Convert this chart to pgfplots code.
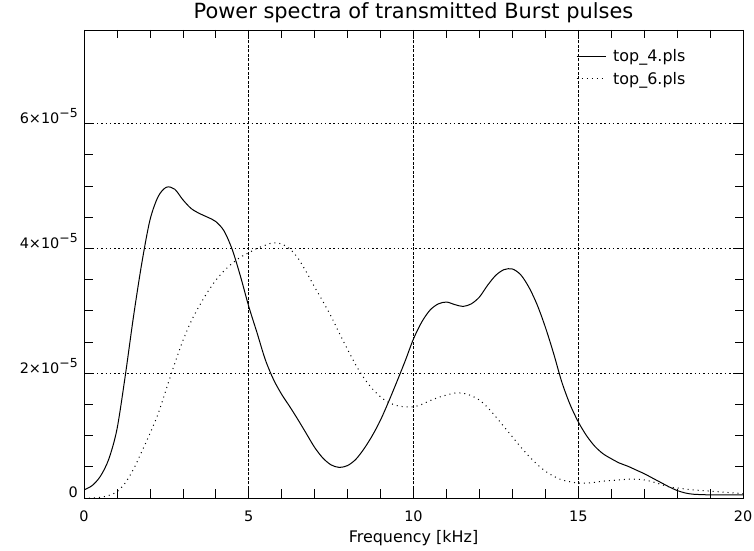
\documentclass[border=0pt]{standalone}
\usepackage{fontspec}
\setmainfont{DejaVu Sans}
\usepackage{pgfplots}
\pgfplotsset{compat=1.18}
\newcommand{\sups}[1]{\raisebox{0.42em}{\fontsize{12.5}{13}\selectfont #1}}
\begin{document}
\begin{tikzpicture}
\begin{axis}[
  scale only axis, width=659bp, height=468bp,
  xmin=0, xmax=20, ymin=0, ymax=7.5e-5,
  xtick={0,5,10,15,20}, xticklabels={0,5,10,15,20},
  minor x tick num=4,
  ytick={0,2e-5,4e-5,6e-5},
  yticklabels={0, 2×10\sups{−5}, 4×10\sups{−5}, 6×10\sups{−5}},
  minor y tick num=3,
  scaled y ticks=false, scaled x ticks=false,
  xticklabel style={font=\fontsize{14.5}{16}\selectfont, inner sep=0pt, anchor=base, yshift=-24bp},
  yticklabel style={font=\fontsize{14.5}{16}\selectfont, inner sep=0pt, anchor=base east, xshift=-6bp},
  tick align=inside,
  major tick length=8.5bp, minor tick length=8.5bp,
  every tick/.style={black, line width=0.7bp},
  axis line style={line width=0.8bp},
  grid=major,
  major x grid style={black, line width=0.7bp, dash pattern=on 3bp off 1.5bp},
  major y grid style={black, line width=0.8bp, dash pattern=on 1.5bp off 2.8bp},
  xlabel={Frequency [kHz]},
  xlabel style={font=\fontsize{16}{18}\selectfont, inner sep=0pt, at={(axis description cs:0.5,0)}, anchor=base, yshift=-45bp},
  title={Power spectra of transmitted Burst pulses},
  title style={font=\fontsize{21}{24}\selectfont, inner sep=0pt, at={(axis description cs:0.5,1)}, anchor=base, yshift=6bp},
  legend style={draw=none, fill=none, at={(0.7466,0.958)}, anchor=north west,
    font=\fontsize{16}{19}\selectfont, inner sep=0pt,
    nodes={inner sep=0pt}, column sep=7bp, row sep=8.5bp},
  legend cell align=left,
  legend image code/.code={\draw[#1] (0bp,0bp) -- (29bp,0bp);},
]
\addplot[black, line width=1bp, smooth, tension=0.5] coordinates {
(0,0.13e-5) (0.25,0.2e-5) (0.5,0.35e-5) (0.75,0.62e-5) (1.0,1.1e-5)
(1.25,1.95e-5) (1.5,2.9e-5) (1.75,3.75e-5) (2.0,4.45e-5) (2.25,4.83e-5)
(2.5,4.98e-5) (2.75,4.95e-5) (3.0,4.78e-5) (3.25,4.64e-5) (3.5,4.56e-5)
(3.75,4.5e-5) (4.0,4.43e-5) (4.25,4.28e-5) (4.5,3.98e-5) (4.75,3.55e-5)
(5.0,3.07e-5) (5.25,2.65e-5) (5.5,2.22e-5) (5.75,1.9e-5) (6.0,1.66e-5)
(6.25,1.46e-5) (6.5,1.25e-5) (6.75,1.03e-5) (7.0,0.81e-5) (7.25,0.64e-5)
(7.5,0.53e-5) (7.75,0.49e-5) (8.0,0.52e-5) (8.25,0.62e-5) (8.5,0.79e-5)
(8.75,1.0e-5) (9.0,1.25e-5) (9.25,1.55e-5) (9.5,1.87e-5) (9.75,2.2e-5)
(10.0,2.55e-5) (10.25,2.82e-5) (10.5,3.01e-5) (10.75,3.11e-5) (11.0,3.14e-5)
(11.25,3.1e-5) (11.5,3.07e-5) (11.75,3.11e-5) (12.0,3.22e-5) (12.25,3.41e-5)
(12.5,3.57e-5) (12.75,3.66e-5) (13.0,3.67e-5) (13.25,3.58e-5) (13.5,3.38e-5)
(13.75,3.1e-5) (14.0,2.74e-5) (14.25,2.32e-5) (14.5,1.86e-5) (14.75,1.5e-5)
(15.0,1.22e-5) (15.25,1.0e-5) (15.5,0.83e-5) (15.75,0.71e-5) (16.0,0.63e-5)
(16.25,0.56e-5) (16.5,0.51e-5) (16.75,0.45e-5) (17.0,0.39e-5) (17.25,0.32e-5)
(17.5,0.25e-5) (17.75,0.18e-5) (18.0,0.12e-5) (18.25,0.08e-5) (18.5,0.06e-5)
(19.0,0.05e-5) (19.5,0.05e-5) (20.0,0.05e-5)
};
\addlegendentry{top\_4.pls}
\addplot[black, line width=1bp, dash pattern=on 1bp off 4bp, smooth, tension=0.5] coordinates {
(0,0) (0.25,0) (0.5,0.01e-5) (0.75,0.04e-5) (1.0,0.1e-5)
(1.25,0.24e-5) (1.5,0.46e-5) (1.75,0.74e-5) (2.0,1.03e-5) (2.25,1.35e-5)
(2.5,1.75e-5) (2.75,2.15e-5) (3.0,2.52e-5) (3.25,2.83e-5) (3.5,3.08e-5)
(3.75,3.3e-5) (4.0,3.49e-5) (4.25,3.64e-5) (4.5,3.76e-5) (4.75,3.86e-5)
(5.0,3.93e-5) (5.25,4.0e-5) (5.5,4.05e-5) (5.75,4.09e-5) (6.0,4.07e-5)
(6.25,3.99e-5) (6.5,3.84e-5) (6.75,3.62e-5) (7.0,3.38e-5) (7.25,3.15e-5)
(7.5,2.91e-5) (7.75,2.64e-5) (8.0,2.38e-5) (8.25,2.13e-5) (8.5,1.92e-5)
(8.75,1.75e-5) (9.0,1.62e-5) (9.25,1.53e-5) (9.5,1.48e-5) (9.75,1.46e-5)
(10.0,1.46e-5) (10.25,1.5e-5) (10.5,1.56e-5) (10.75,1.61e-5) (11.0,1.65e-5)
(11.25,1.68e-5) (11.5,1.68e-5) (11.75,1.64e-5) (12.0,1.57e-5) (12.25,1.45e-5)
(12.5,1.3e-5) (12.75,1.14e-5) (13.0,0.98e-5) (13.25,0.82e-5) (13.5,0.67e-5)
(13.75,0.54e-5) (14.0,0.43e-5) (14.25,0.35e-5) (14.5,0.29e-5) (14.75,0.26e-5)
(15.0,0.24e-5) (15.25,0.24e-5) (15.5,0.25e-5) (15.75,0.27e-5) (16.0,0.28e-5)
(16.25,0.29e-5) (16.5,0.3e-5) (16.75,0.3e-5) (17.0,0.29e-5) (17.25,0.26e-5)
(17.5,0.22e-5) (17.75,0.18e-5) (18.0,0.16e-5) (18.5,0.13e-5) (19.0,0.11e-5)
(19.5,0.09e-5) (20.0,0.07e-5)
};
\addlegendentry{top\_6.pls}
\end{axis}
\path ([shift={(-84bp,-53bp)}]current axis.south west) rectangle ([shift={(11bp,30bp)}]current axis.north east);
\end{tikzpicture}
\end{document}
